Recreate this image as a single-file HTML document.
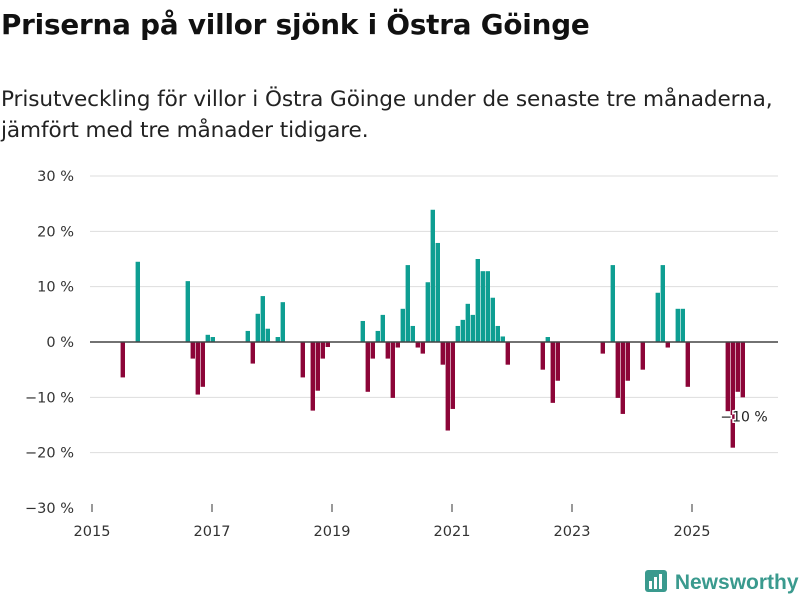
<!DOCTYPE html>
<html><head><meta charset="utf-8"><style>
body{margin:0;width:800px;height:600px;background:#fff;font-family:"DejaVu Sans","Liberation Sans",sans-serif;overflow:hidden;position:relative}
h1{position:absolute;left:1px;top:8px;margin:0;font-size:27.8px;font-weight:bold;color:#111;letter-spacing:-0.2px;white-space:nowrap}
p{position:absolute;left:1px;top:84px;margin:0;font-size:21.6px;line-height:31px;color:#222;letter-spacing:-0.1px;white-space:nowrap}
svg{position:absolute;left:0;top:0}
.logo{position:absolute;left:645px;top:568px;font-size:21px;font-weight:bold;color:#3a9a8e;font-family:"Liberation Sans",sans-serif}
</style></head><body>
<h1>Priserna på villor sjönk i Östra Göinge</h1>
<p>Prisutveckling för villor i Östra Göinge under de senaste tre månaderna,<br>jämfört med tre månader tidigare.</p>
<svg id="chart" width="800" height="600"></svg>
<div class="logo"><svg width="24" height="26" style="vertical-align:-5px;position:static"><rect x="0" y="2" width="22" height="22" rx="3" fill="#3a9a8e"/><rect x="4" y="13" width="3" height="8" fill="#fff"/><rect x="9" y="9" width="3" height="12" fill="#fff"/><rect x="14" y="6" width="3" height="15" fill="#fff"/></svg> Newsworthy</div>
<script>
const months=[6,9,19,20,21,22,23,24,31,32,33,34,35,37,38,42,44,45,46,47,54,55,56,57,58,59,60,61,62,63,64,65,66,67,68,69,70,71,72,73,74,75,76,77,78,79,80,81,82,83,90,91,92,93,102,104,105,106,107,110,113,114,115,117,118,119,127,128,129,130];
const values=[-6.4,14.5,11,-3,-9.5,-8.1,1.3,0.9,2,-3.9,5.1,8.3,2.4,0.9,7.2,-6.4,-12.4,-8.8,-3,-0.9,3.8,-9,-3,2,4.9,-3,-10.1,-1,6,13.9,2.9,-1,-2.1,10.8,23.9,17.9,-4.1,-16,-12.1,2.9,4,6.9,4.9,15,12.8,12.8,8,2.9,1,-4.1,-5,0.9,-11,-7,-2.1,13.9,-10.1,-13,-7,-5,8.9,13.9,-1,6,6,-8.1,-12.5,-19.1,-9,-10];
const yTicks=[30,20,10,0,-10,-20,-30];
const xYears=[2015,2017,2019,2021,2023,2025];
const NS="http://www.w3.org/2000/svg";
const svg=document.getElementById('chart');
const x=m=>92+5*m;
const y=v=>342-v*5.533;
function mk(t,a){const e=document.createElementNS(NS,t);for(const k in a)e.setAttribute(k,a[k]);svg.appendChild(e);return e;}
yTicks.forEach(t=>{
  if(t!==0&&t!==-30){const g=mk('line',{x1:90,x2:778,y1:y(t),y2:y(t),stroke:'#ddd','stroke-width':1});
  
  }
  const l=mk('text',{x:74,y:y(t)+5,'text-anchor':'end','font-size':14.5,fill:'#333'});
  
  
  l.textContent=(t<0?'−'+(-t):t)+' %';
});
xYears.forEach(yr=>{
  const m=(yr-2015)*12;
  const tk=mk('line',{x1:x(m),x2:x(m),y1:y(-30)-4,y2:y(-30)+4,stroke:'#333','stroke-width':1});
  
  
  const l=mk('text',{x:x(m),y:536,'text-anchor':'middle','font-size':14.5,fill:'#333'});
  
  
  l.textContent=yr;
});
months.forEach((m,i)=>{
  const v=values[i];
  const r=mk('rect',{x:x(m)-1.4,width:4.4,y:Math.min(y(v),y(0)),height:Math.abs(y(v)-y(0)),fill:v>=0?'#0e9e92':'#8c0538'});
  
  
});
const z=mk('line',{x1:90,x2:778,y1:y(0),y2:y(0),stroke:'#444','stroke-width':1.6});


const last=values[values.length-1];
const lb=mk('text',{x:744,y:y(last)+24,'text-anchor':'middle','font-size':14,fill:'#222',stroke:'#fff','stroke-width':3,'paint-order':'stroke'});


lb.textContent='−'+Math.round(-last)+' %';
</script>
</body></html>
